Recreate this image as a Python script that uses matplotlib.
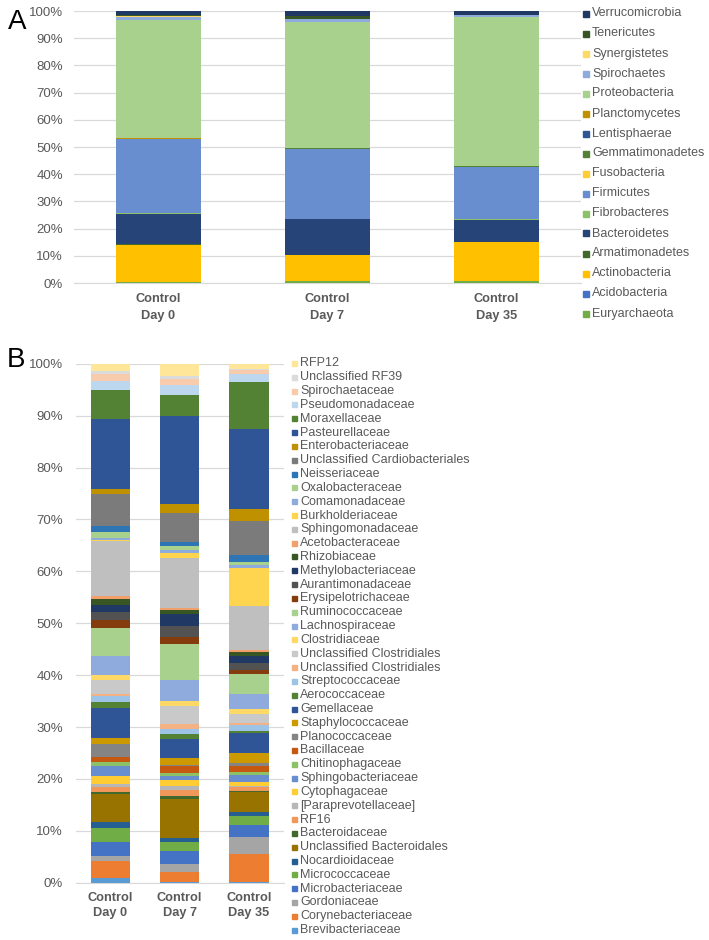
import matplotlib.pyplot as plt
from matplotlib.patches import Rectangle
import numpy as np

plt.rcParams['font.family'] = ['Liberation Sans', 'DejaVu Sans']

samples = ['Control\nDay 0', 'Control\nDay 7', 'Control\nDay 35']

# panel A - phyla, listed from bottom of the stack upwards
phyla = ['Euryarchaeota', 'Acidobacteria', 'Actinobacteria', 'Armatimonadetes',
         'Bacteroidetes', 'Fibrobacteres', 'Firmicutes', 'Fusobacteria',
         'Gemmatimonadetes', 'Lentisphaerae', 'Planctomycetes', 'Proteobacteria',
         'Spirochaetes', 'Synergistetes', 'Tenericutes', 'Verrucomicrobia']
phyla_day0 = [0.2, 0.1, 13.8, 0.1, 11.3, 0.4, 26.9, 0.1, 0.1, 0.1, 0.1, 43.5, 1.2, 0.1, 0.5, 1.5]
phyla_day7 = [0.6, 0.1, 9.6, 0.1, 13.0, 0.3, 25.6, 0.1, 0.1, 0.1, 0.1, 46.3, 0.9, 0.1, 1.2, 1.8]
phyla_day35 = [0.6, 0.1, 14.4, 0.1, 8.0, 0.2, 19.3, 0.1, 0.1, 0.1, 0.1, 54.8, 0.5, 0.1, 0.2, 1.3]

# panel B - families, bottom of the stack upwards
families = ['Brevibacteriaceae', 'Corynebacteriaceae', 'Gordoniaceae', 'Microbacteriaceae',
            'Micrococcaceae', 'Nocardioidaceae', 'Unclassified Bacteroidales', 'Bacteroidaceae',
            'RF16', '[Paraprevotellaceae]', 'Cytophagaceae', 'Sphingobacteriaceae',
            'Chitinophagaceae', 'Bacillaceae', 'Planococcaceae', 'Staphylococcaceae',
            'Gemellaceae', 'Aerococcaceae', 'Streptococcaceae', 'Unclassified Clostridiales',
            'Unclassified Clostridiales', 'Clostridiaceae', 'Lachnospiraceae', 'Ruminococcaceae',
            'Erysipelotrichaceae', 'Aurantimonadaceae', 'Methylobacteriaceae', 'Rhizobiaceae',
            'Acetobacteraceae', 'Sphingomonadaceae', 'Burkholderiaceae', 'Comamonadaceae',
            'Oxalobacteraceae', 'Neisseriaceae', 'Unclassified Cardiobacteriales',
            'Enterobacteriaceae', 'Pasteurellaceae', 'Moraxellaceae', 'Pseudomonadaceae',
            'Spirochaetaceae', 'Unclassified RF39', 'RFP12']
fam_day0 = [1.0, 3.2, 0.9, 2.8, 2.7, 1.0, 5.5, 0.4, 0.9, 0.7, 1.5, 1.9, 0.8, 1.0, 2.5, 1.1,
            5.8, 1.1, 1.2, 0.3, 2.8, 1.0, 3.6, 5.4, 1.6, 1.5, 1.4, 1.0, 0.7, 10.5, 0.2, 0.5,
            1.0, 1.3, 6.1, 1.0, 13.4, 5.7, 1.7, 1.4, 0.5, 1.4]
fam_day7 = [0.1, 2.0, 1.5, 2.6, 1.7, 0.7, 7.5, 0.6, 1.2, 0.7, 1.2, 0.8, 0.5, 1.4, 0.2, 1.4,
            3.6, 0.9, 1.1, 0.8, 3.5, 1.0, 4.1, 6.9, 1.4, 2.1, 2.3, 0.7, 0.5, 9.6, 0.9, 0.6,
            0.8, 0.8, 5.6, 1.7, 16.9, 4.1, 1.9, 1.2, 0.6, 2.3]
fam_day35 = [0.1, 5.4, 3.3, 2.4, 1.7, 0.7, 3.8, 0.3, 0.7, 0.2, 0.8, 1.3, 0.7, 1.0, 0.7, 1.9,
             3.9, 0.3, 1.2, 0.4, 1.8, 0.9, 2.9, 3.8, 0.7, 1.4, 1.4, 0.8, 0.3, 8.5, 7.4, 0.5,
             0.6, 1.4, 6.5, 2.3, 15.4, 9.0, 1.6, 0.7, 0.3, 1.0]

phyla_colors = ['#70AD47', '#4472C4', '#FFC000', '#43682B', '#264478', '#8CC168', '#698ED0',
                '#FFCD33', '#548235', '#2F5597', '#BF9000', '#A9D18E', '#8FAADC', '#FFD966',
                '#375623', '#203864']
fam_colors = ['#5B9BD5', '#ED7D31', '#A5A5A5', '#4472C4', '#70AD47', '#255E91', '#997300',
              '#43682B', '#F1975A', '#B7B7B7', '#FFCD33', '#698ED0', '#8CC168', '#C65911',
              '#848484', '#CC9A00', '#2F5597', '#548235', '#9DC3E6', '#F4B183', '#C9C9C9',
              '#FFD966', '#8FAADC', '#A9D18E', '#843C0C', '#525252', '#203864', '#375623',
              '#F1A06B', '#BFBFBF', '#FFD44F', '#8FAADC', '#A9D18E', '#2E75B6', '#7B7B7B',
              '#BF9000', '#2F5597', '#548235', '#BDD7EE', '#F8CBAD', '#DBDBDB', '#FFE699']

W, H = 709, 940
fig = plt.figure(figsize=(W / 100, H / 100), dpi=100)
grey = '#595959'


def fx(x):
    return x / W


def fy(y):
    return 1 - y / H


def stacked(ax, table, colors, width, linesp, xpad, ypad):
    x = np.arange(len(samples))
    bottom = np.zeros(len(samples))
    for vals, c in zip(table, colors):
        vals = np.array(vals)
        ax.bar(x, vals, width, bottom=bottom, color=c, linewidth=0, zorder=3)
        bottom += vals
    ax.set_xlim(-0.5, 2.5)
    ax.set_ylim(0, 100)
    ax.set_yticks(np.arange(0, 101, 10))
    ax.set_yticklabels(['%d%%' % v for v in range(0, 101, 10)], color=grey, fontsize=9.5)
    ax.set_xticks(x)
    ax.set_xticklabels(samples, fontweight='bold', color=grey, fontsize=9.2,
                       linespacing=linesp)
    ax.tick_params(axis='y', length=0, pad=ypad)
    ax.tick_params(axis='x', length=0, pad=xpad)
    ax.grid(axis='y', color='#d9d9d9', linewidth=0.9, zorder=0)
    for s in ['top', 'right', 'left']:
        ax.spines[s].set_visible(False)
    ax.spines['bottom'].set_color('#d9d9d9')


def legend(names, colors, x0, y0, step, size):
    for i, (name, c) in enumerate(zip(names[::-1], colors[::-1])):
        y = y0 + step * i
        fig.patches.append(Rectangle((fx(x0), fy(y + size / 2)), size / W, size / H,
                                     transform=fig.transFigure, color=c))
        fig.text(fx(x0 + size + 3), fy(y), name, fontsize=9, color=grey, va='center')


# panel A
axA = fig.add_axes([fx(74), fy(283), 507 / W, 272 / H])
stacked(axA, np.array([phyla_day0, phyla_day7, phyla_day35]).T, phyla_colors, 0.5, 1.6, 7, 8)
legend(phyla, phyla_colors, 583, 13.5, 20, 6)
fig.text(fx(8), fy(22), 'A', fontsize=20, va='center')

# panel B
axB = fig.add_axes([fx(75.6), fy(882.7), 208 / W, 519 / H])
stacked(axB, np.array([fam_day0, fam_day7, fam_day35]).T, fam_colors, 0.57, 1.3, 7, 9)
legend(families, fam_colors, 292, 363.5, 13.82, 5)
fig.text(fx(7), fy(360), 'B', fontsize=20, va='center')

fig.savefig('out.png', dpi=100)
